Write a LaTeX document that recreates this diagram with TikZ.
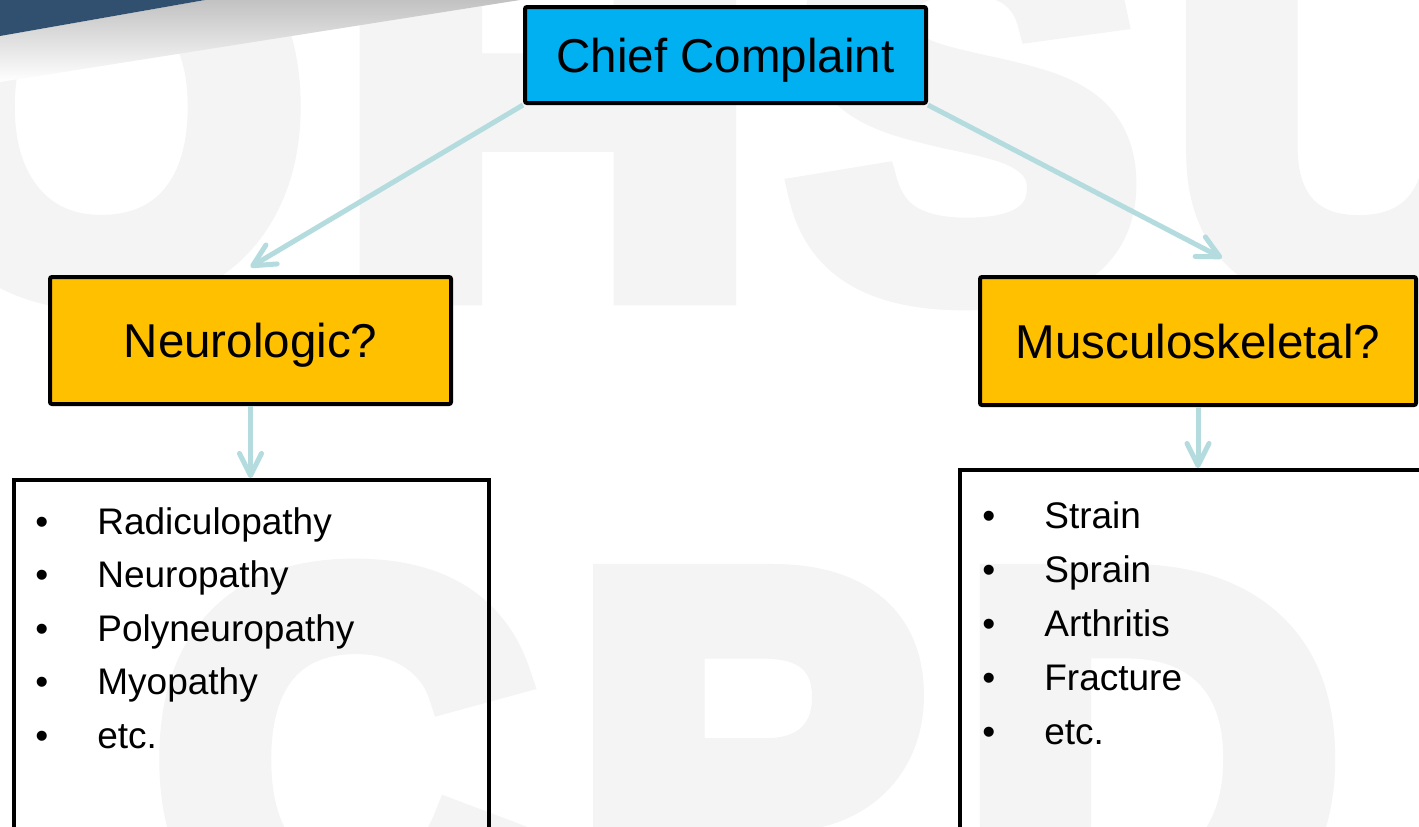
\documentclass[tikz,border=0pt]{standalone}
\usepackage{fontspec}
\setmainfont{Liberation Sans}
\newfontfamily\ccwmfont[FakeBold=7]{Liberation Sans Bold}
\usetikzlibrary{arrows.meta,calc}
\definecolor{ccblue}{HTML}{00B0F0}
\definecolor{ccorange}{HTML}{FFC000}
\definecolor{ccarrow}{HTML}{B4DCDF}
\definecolor{ccwm}{HTML}{F4F4F4}
\definecolor{ccswoosh}{HTML}{31506F}
\newcommand\bul[1]{\makebox[31pt][l]{•}#1}
\begin{document}
\begin{tikzpicture}[x=0.5pt,y=-0.5pt,
  hdr/.style={draw=black, line width=2pt, rounded corners=1pt, inner sep=0pt,
    text depth=0pt, font=\fontsize{23.75}{28}\selectfont},
  listbox/.style={draw=black, line width=2pt, inner sep=0pt},
  item/.style={anchor=base west, inner sep=0pt, font=\fontsize{18.5}{22}\selectfont},
  conn/.style={draw=ccarrow, line width=2.5pt, -{Straight Barb[length=11pt,width=11pt,round]}},
  wmark/.style={anchor=base, inner sep=0pt, text=ccwm, font=\ccwmfont\fontsize{260}{260}\selectfont}
]
\useasboundingbox (0,0) rectangle (1419,826);
\clip (0,0) rectangle (1419,826);
\fill[white] (0,0) rectangle (1419,826);

% watermark
\node[wmark] (wO) at (102,287) {O};
\node[wmark, xscale=1.1] (wH) at (548,287) {H};
\node[wmark] (wS) at (965,287) {S};
\node[wmark] (wU) at (1361,287) {U};
\node[wmark] (wC) at (344,940) {C};
\node[wmark] (wP) at (750,940) {P};
\node[wmark] (wD) at (1151,940) {D};

% swoosh
\shade[top color=black!24, bottom color=white] (0,36) -- (205,0) -- (520,0) -- (0,82) -- cycle;
\fill[ccswoosh] (0,0) -- (205,0) -- (0,36) -- cycle;

% boxes
\node[hdr, fill=ccblue, minimum width=200.5pt, minimum height=48pt] (chief) at (725.5,55) {Chief Complaint};
\node[hdr, fill=ccorange, minimum width=200.5pt, minimum height=63.5pt] (neuro) at (250.5,340.5) {Neurologic?};
\node[hdr, fill=ccorange, minimum width=218pt, minimum height=64pt] (musc) at (1198,341) {Musculoskeletal?};
\node[listbox, minimum width=237.5pt, minimum height=210pt] (nlist) at (251.5,690) {};
\node[listbox, minimum width=250pt, minimum height=215pt] (mlist) at (1210,685) {};

% items
\node[item] (l1) at (35,534) {\bul{Radiculopathy}};
\node[item] (l2) at (35,587.5) {\bul{Neuropathy}};
\node[item] (l3) at (35,641) {\bul{Polyneuropathy}};
\node[item] (l4) at (35,694.5) {\bul{Myopathy}};
\node[item] (l5) at (35,748) {\bul{etc.}};
\node[item] (r1) at (982,528) {\bul{Strain}};
\node[item] (r2) at (982,582) {\bul{Sprain}};
\node[item] (r3) at (982,636) {\bul{Arthritis}};
\node[item] (r4) at (982,690) {\bul{Fracture}};
\node[item] (r5) at (982,744) {\bul{etc.}};

% connectors
\draw[conn] (chief.south west) -- ($(neuro.north)+(0,-8)$);
\draw[conn] (chief.south east) -- ($(musc.north)+(24,-17)$);
\draw[conn] (neuro.south) -- (neuro.south |- nlist.north);
\draw[conn] (musc.south) -- (musc.south |- mlist.north);
\end{tikzpicture}
\end{document}
